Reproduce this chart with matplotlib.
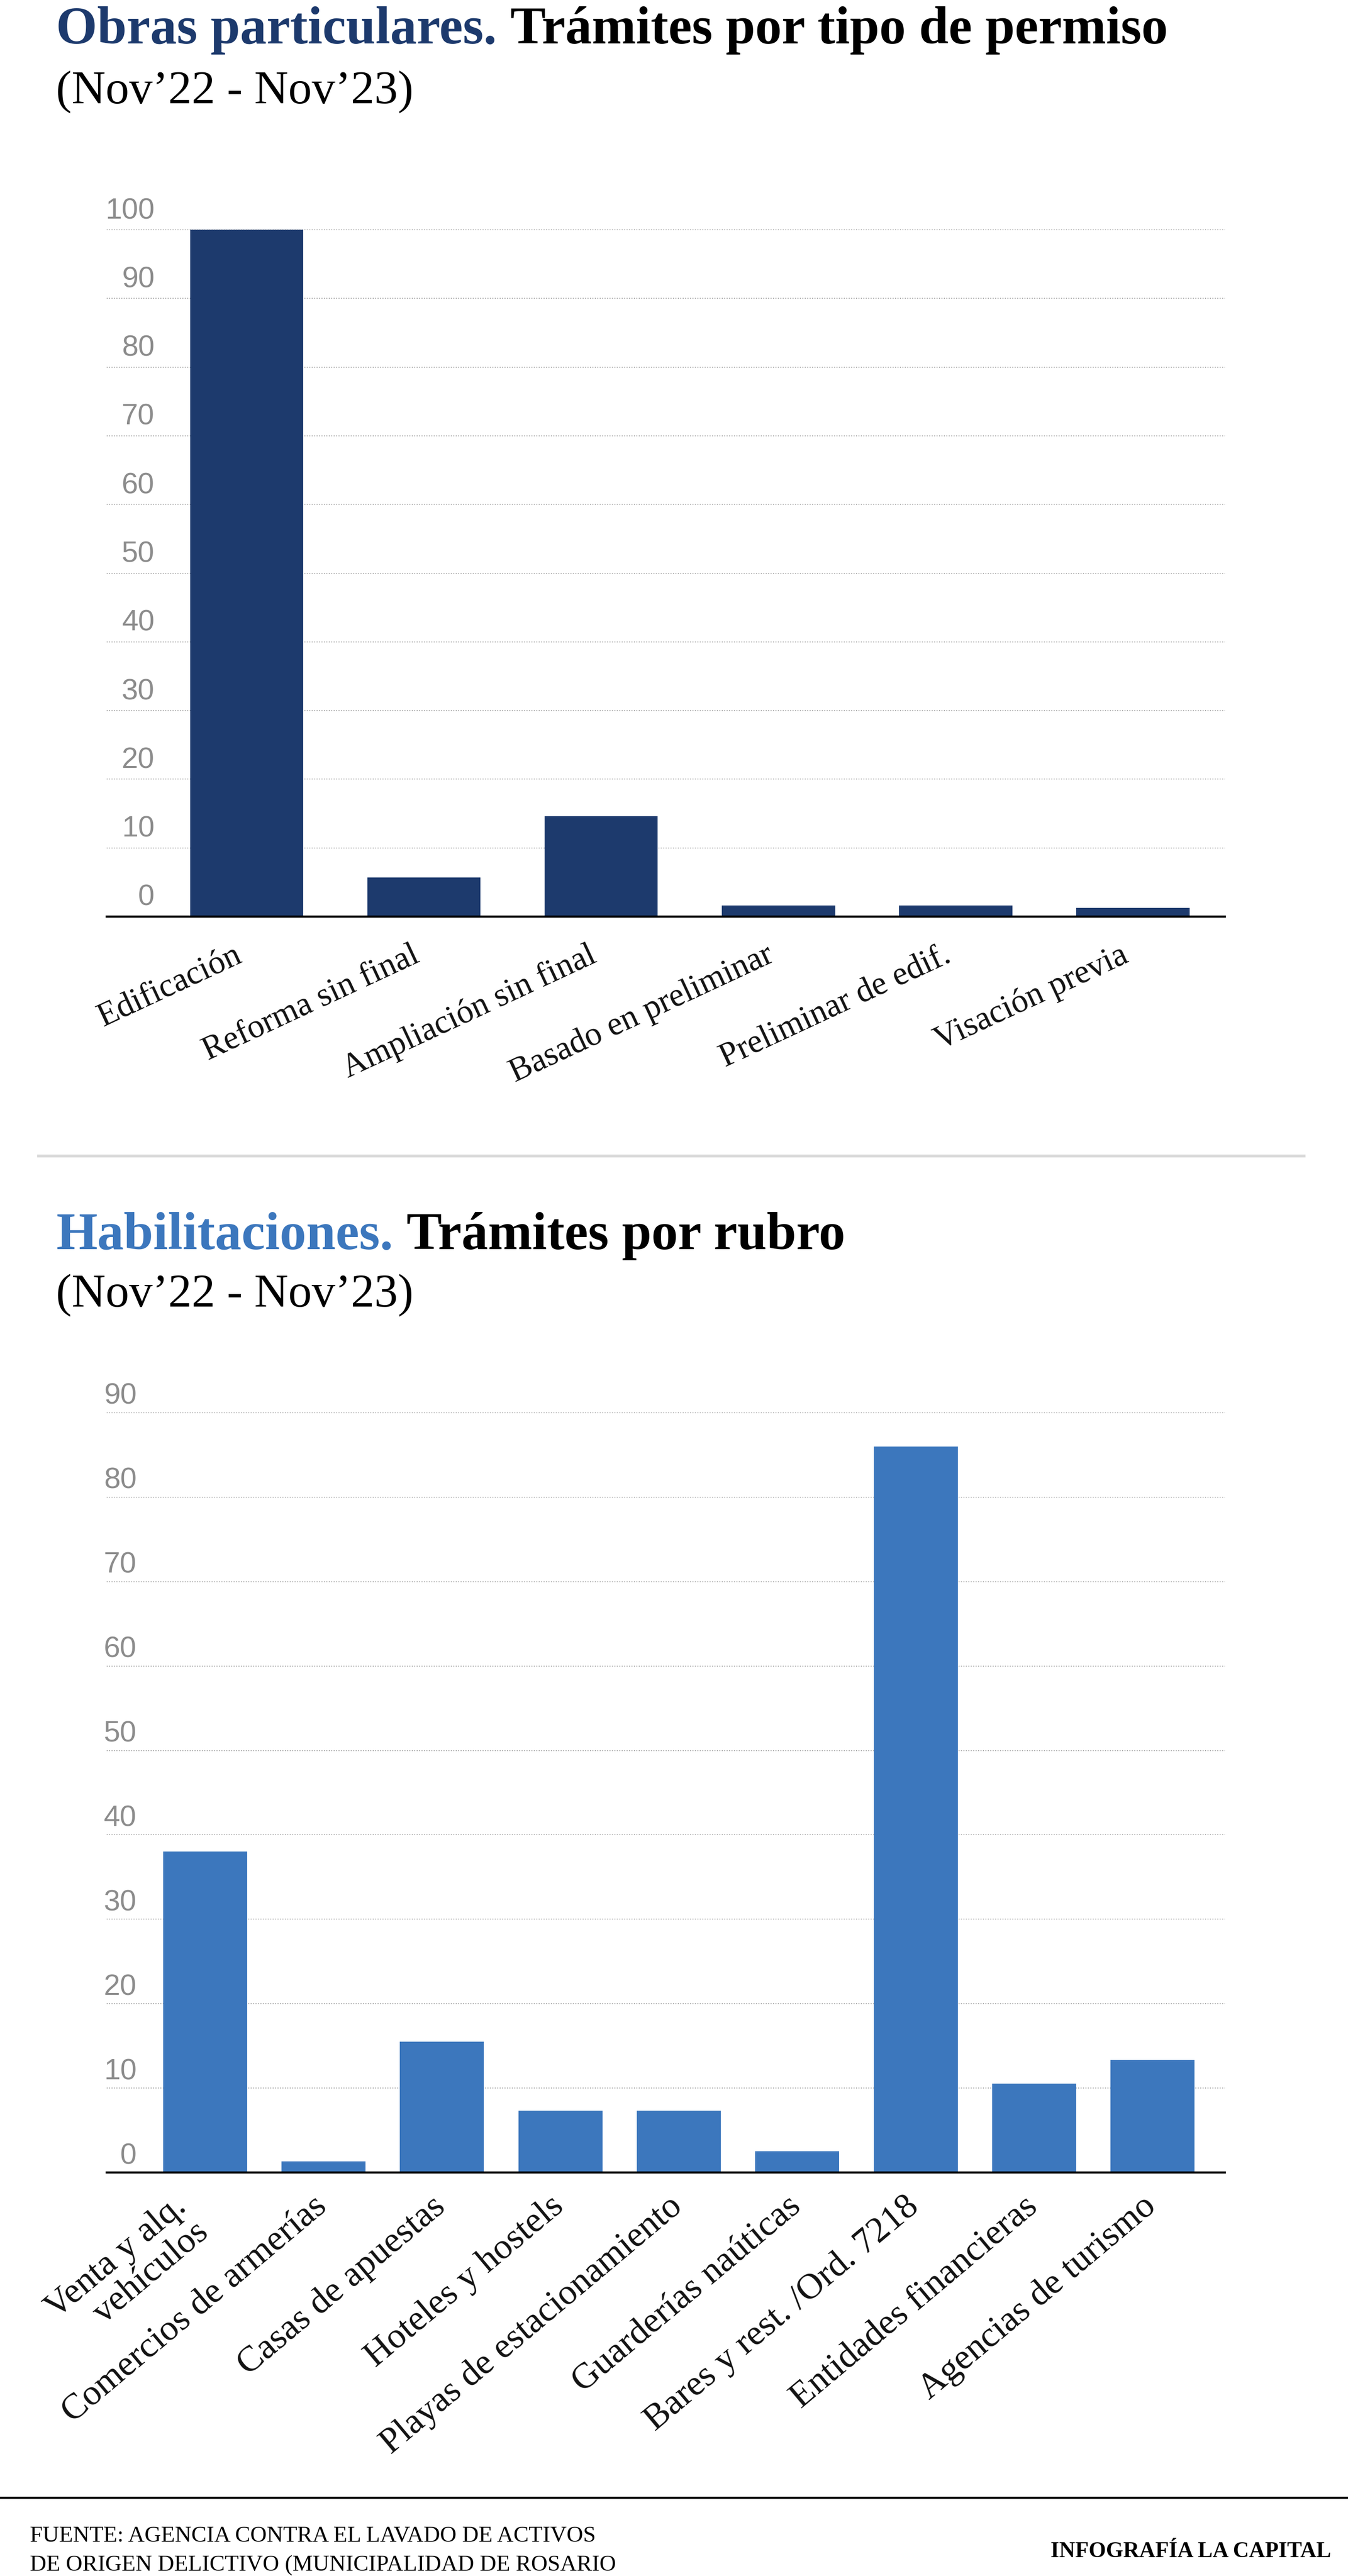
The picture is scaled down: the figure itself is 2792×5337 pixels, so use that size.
import matplotlib
matplotlib.use("Agg")
import matplotlib.pyplot as plt
from matplotlib.text import Annotation
from matplotlib.transforms import ScaledTranslation

# data
obras_cats = ["Edificación", "Reforma sin final", "Ampliación sin final",
              "Basado en preliminar", "Preliminar de edif.", "Visación previa"]
obras_vals = [100, 5.7, 14.6, 1.6, 1.6, 1.3]
obras_ticks = [0, 10, 20, 30, 40, 50, 60, 70, 80, 90, 100]

habil_cats = ["Venta y alq.\nvehículos", "Comercios de armerías", "Casas de apuestas",
              "Hoteles y hostels", "Playas de estacionamiento", "Guarderías naúticas",
              "Bares y rest. /Ord. 7218", "Entidades financieras", "Agencias de turismo"]
habil_vals = [38, 1.3, 15.5, 7.3, 7.3, 2.5, 86, 10.5, 13.3]
habil_ticks = [0, 10, 20, 30, 40, 50, 60, 70, 80, 90]

NAVY = "#1d3a6d"
BLUE = "#3c77bd"
GRID = "#a9a9a9"
TICKC = "#8c8c8c"
SERIF = ["Liberation Serif", "DejaVu Serif"]
NARROW = ["Liberation Sans Narrow", "DejaVu Sans Condensed", "Liberation Sans"]

W, H = 2792, 5337
DPI = 100
fig = plt.figure(figsize=(W / DPI, H / DPI), dpi=DPI)
fig.patch.set_facecolor("white")


def fx(px):
    return px / W


def fy(px):
    return 1 - px / H


def title(y_base, first, rest, color):
    t1 = fig.text(fx(116), fy(y_base), first, fontsize=79, fontweight="bold",
                  family=SERIF, color=color, va="baseline", ha="left")
    # second half of the heading continues right after the coloured part
    t2 = Annotation(rest, xy=(1, 0), xycoords=t1, xytext=(20, 0),
                    textcoords="offset points", fontsize=79, fontweight="bold",
                    family=SERIF, color="black", va="bottom", ha="left",
                    annotation_clip=False)
    fig.add_artist(t2)


def subtitle(y_base):
    fig.text(fx(116), fy(y_base), "(Nov\u201922 - Nov\u201923)", fontsize=70,
             family=SERIF, color="black", va="baseline", ha="left")


def bar_panel(rect, cats, vals, ticks, color, xlim, width, label_x, ylab_dy,
              rot, lab_size, lab_dx, lab_dy):
    ax = fig.add_axes(rect)
    x = list(range(len(cats)))
    ax.bar(x, vals, width=width, color=color, zorder=3)
    ax.set_xlim(*xlim)
    ax.set_ylim(ticks[0], ticks[-1])
    for t in ticks[1:]:
        ax.axhline(t, color=GRID, lw=1.4, ls=(0, (1, 1.6)), zorder=1,
                   clip_on=False)
    for s in ["left", "right", "top"]:
        ax.spines[s].set_visible(False)
    ax.spines["bottom"].set_linewidth(3.2)
    ax.spines["bottom"].set_color("black")
    ax.spines["bottom"].set_zorder(4)
    ax.set_xticks([])
    ax.set_yticks([])
    # value labels sit above their gridline, inside the plot
    ytrans = ax.get_yaxis_transform() + ScaledTranslation(0, ylab_dy / DPI, fig.dpi_scale_trans)
    for t in ticks:
        ax.text(label_x, t, str(t), transform=ytrans, ha="right", va="baseline",
                fontsize=44, family=NARROW, color=TICKC)
    xtrans = ax.get_xaxis_transform() + ScaledTranslation(lab_dx / DPI, -lab_dy / DPI, fig.dpi_scale_trans)
    for xi, c in zip(x, cats):
        ax.text(xi, 0, c, transform=xtrans, rotation=rot, ha="right", va="top",
                multialignment="right", fontsize=lab_size, family=SERIF,
                color="#111111", linespacing=1.05)
    return ax


# top panel
title(90, "Obras particulares.", "Trámites por tipo de permiso", NAVY)
subtitle(214)
bar_panel([fx(221), fy(1899), fx(2537) - fx(221), (1899 - 476) / H],
          obras_cats, obras_vals, obras_ticks, NAVY, (-0.79, 5.52), 0.64,
          (320 - 221) / 2316, 23, 25, 50, 0, 48)

# separator
fig.add_artist(plt.Line2D([fx(80), fx(2701)], [fy(2395), fy(2395)],
                          color="#d9d9d9", lw=4.3))

# bottom panel
title(2588, "Habilitaciones.", "Trámites por rubro", BLUE)
subtitle(2707)
bar_panel([fx(221), fy(4501), fx(2537) - fx(221), (4501 - 2927) / H],
          habil_cats, habil_vals, habil_ticks, BLUE, (-0.83, 8.61), 0.71,
          (283 - 221) / 2316, 18, 40, 54, 20, 36)

# footer
fig.add_artist(plt.Line2D([0, 1], [fy(5175), fy(5175)], color="black", lw=3.2))
fig.text(fx(62), fy(5266), "FUENTE: AGENCIA CONTRA EL LAVADO DE ACTIVOS",
         fontsize=34, family=SERIF, va="baseline", ha="left")
fig.text(fx(62), fy(5326), "DE ORIGEN DELICTIVO (MUNICIPALIDAD DE ROSARIO",
         fontsize=34, family=SERIF, va="baseline", ha="left")
fig.text(fx(2757), fy(5298), "INFOGRAFÍA LA CAPITAL", fontsize=33,
         fontweight="bold", family=SERIF, va="baseline", ha="right")

fig.savefig("out.png", dpi=DPI, facecolor="white")
